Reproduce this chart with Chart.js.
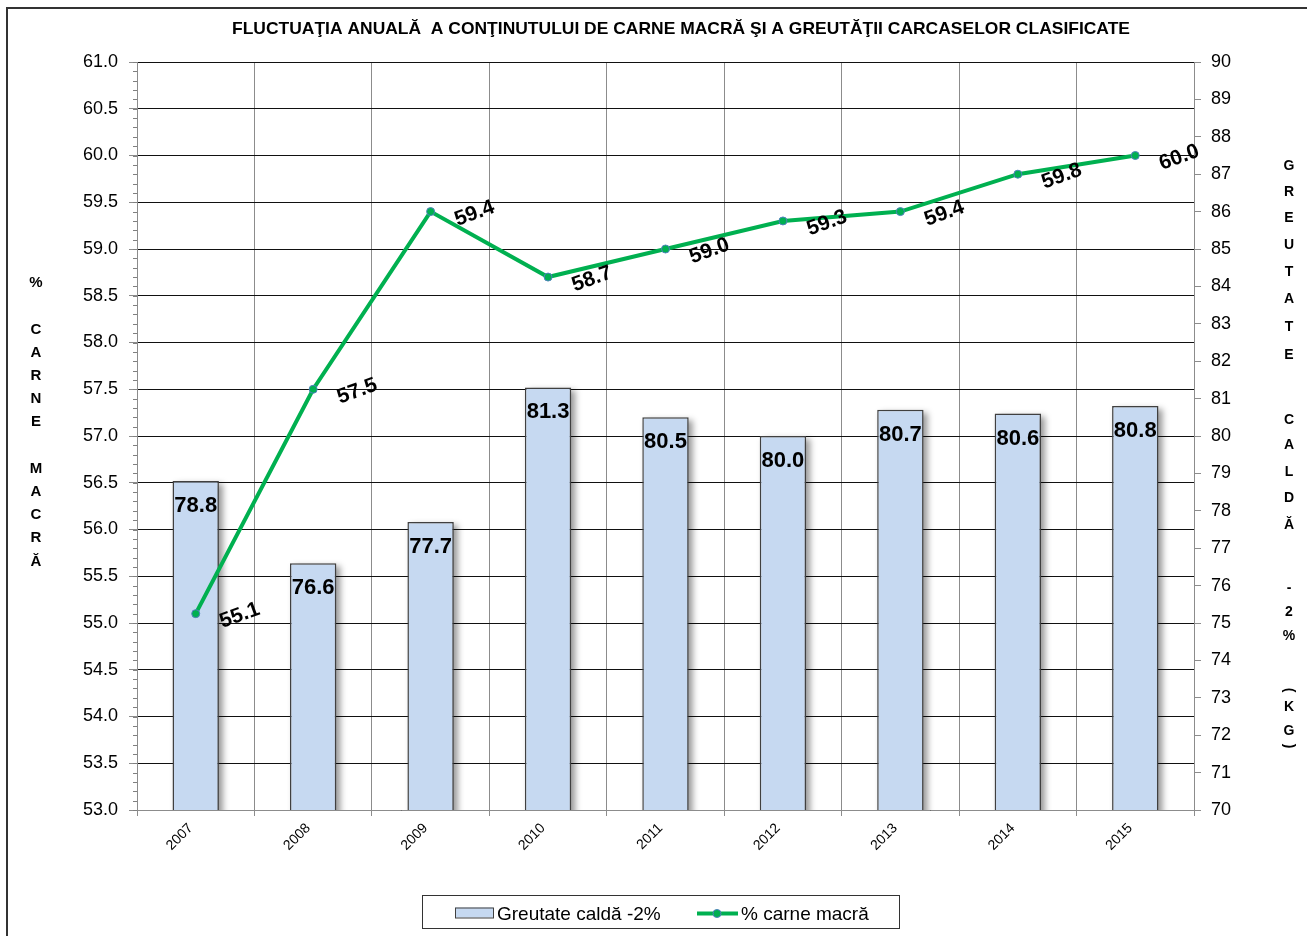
<!DOCTYPE html>
<html>
<head>
<meta charset="utf-8">
<script src="https://cdn.jsdelivr.net/npm/chart.js@4"></script>
<style>
  html, body { margin: 0; padding: 0; background: #fff; }
  canvas { display: block; }
</style>
</head>
<body>
<canvas id="c" width="1307" height="936"></canvas>
<script>
const years = ['2007','2008','2009','2010','2011','2012','2013','2014','2015'];
const weightValues = [78.8, 76.6, 77.7, 81.3, 80.5, 80.0, 80.7, 80.6, 80.8];
const leanValues = [55.1, 57.5, 59.4, 58.7, 59.0, 59.3, 59.4, 59.8, 60.0];
const weightLabel = 'Greutate caldă -2%';
const leanLabel = '% carne macră';
const chartTitle = 'FLUCTUAŢIA ANUALĂ  A CONŢINUTULUI DE CARNE MACRĂ ŞI A GREUTĂŢII CARCASELOR CLASIFICATE';
const leftAxisTitle = ['%', '', 'C', 'A', 'R', 'N', 'E', '', 'M', 'A', 'C', 'R', 'Ă'];
const rightAxisTitle = ['G','R','E','U','T','A','T','E','C','A','L','D','Ă','-','2','%','(','K','G',')'];

const FONT = '"Liberation Sans", Arial, sans-serif';
// layout: vertical positions of stacked right-axis title characters
const rightTitleY = [166,192,218,245,272,299,327,355, 420,445,472,498,525, 588,612,636, 690,707,731,746];

const decor = {
  id: 'decor',
  beforeDatasetDraw(chart, args) {
    if (args.index === 0) {
      const ctx = chart.ctx;
      const ca = chart.chartArea;
      const meta = chart.getDatasetMeta(0);
      ctx.save();
      ctx.beginPath();
      ctx.rect(ca.left, ca.top, ca.right - ca.left, ca.bottom - ca.top);
      ctx.clip();
      ctx.filter = 'blur(3px)';
      ctx.fillStyle = 'rgba(0,0,0,0.4)';
      meta.data.forEach(bar => {
        const w = bar.width;
        const left = bar.x - w / 2;
        ctx.fillRect(left + 4, bar.y + 3, w, ca.bottom - bar.y + 10);
      });
      ctx.restore();
    }
  },
  afterDraw(chart) {
    const ctx = chart.ctx;
    const ca = chart.chartArea;
    ctx.save();
    // outer border (left and top)
    ctx.strokeStyle = '#333';
    ctx.lineWidth = 2;
    ctx.beginPath();
    ctx.moveTo(7, 936);
    ctx.lineTo(7, 8);
    ctx.lineTo(1307, 8);
    ctx.stroke();

    // title, stretched to the reference width
    ctx.fillStyle = '#000';
    ctx.font = 'bold 15px ' + FONT;
    ctx.textAlign = 'center';
    ctx.textBaseline = 'middle';
    const tw = ctx.measureText(chartTitle).width;
    ctx.save();
    ctx.translate(681, 30);
    ctx.scale(898 / tw, 1.08);
    ctx.fillText(chartTitle, 0, 0);
    ctx.restore();

    // minor ticks left axis
    const yl = chart.scales.y;
    ctx.strokeStyle = '#808080';
    ctx.lineWidth = 1;
    for (let k = 0; k <= 80; k++) {
      const v = 53 + k * 0.1;
      const py = Math.round(yl.getPixelForValue(v)) + 0.5;
      ctx.beginPath();
      ctx.moveTo(ca.left - 4, py);
      ctx.lineTo(ca.left, py);
      ctx.stroke();
    }

    // left axis title (stacked)
    ctx.font = 'bold 15px ' + FONT;
    ctx.fillStyle = '#000';
    ctx.textAlign = 'center';
    let y = 283;
    leftAxisTitle.forEach(ch => {
      if (ch) ctx.fillText(ch, 36, y);
      y += 23.2;
    });

    // right axis title (stacked)
    ctx.font = 'bold 14px ' + FONT;
    rightAxisTitle.forEach((ch, i) => {
      const yy = rightTitleY[i];
      if (ch === '(' || ch === ')') {
        ctx.save();
        ctx.translate(1289, yy);
        ctx.rotate(Math.PI / 2);
        ctx.fillText(ch, 0, 0);
        ctx.restore();
      } else {
        ctx.fillText(ch, 1289, yy);
      }
    });

    // bar value labels
    const m0 = chart.getDatasetMeta(0);
    ctx.font = 'bold 22px ' + FONT;
    ctx.textAlign = 'center';
    ctx.textBaseline = 'middle';
    m0.data.forEach((bar, i) => {
      ctx.fillText(weightValues[i].toFixed(1), bar.x, bar.y + 25);
    });

    // line value labels (rotated)
    const m1 = chart.getDatasetMeta(1);
    ctx.font = 'bold 21px ' + FONT;
    m1.data.forEach((pt, i) => {
      ctx.save();
      ctx.translate(pt.x + 44, pt.y + 2);
      ctx.rotate(-20 * Math.PI / 180);
      ctx.fillText(leanValues[i].toFixed(1), 0, 0);
      ctx.restore();
    });

    // legend
    const lx = 422, ly = 895, lw = 477, lh = 33;
    ctx.fillStyle = '#fff';
    ctx.fillRect(lx, ly, lw, lh);
    ctx.strokeStyle = '#333';
    ctx.lineWidth = 1;
    ctx.strokeRect(lx + 0.5, ly + 0.5, lw, lh);
    const cy = ly + lh / 2 + 2;
    ctx.fillStyle = '#C6D9F1';
    ctx.fillRect(455, cy - 6, 38, 10);
    ctx.strokeStyle = '#404040';
    ctx.strokeRect(455.5, cy - 5.5, 38, 10);
    ctx.fillStyle = '#000';
    ctx.font = '19px ' + FONT;
    ctx.textAlign = 'left';
    ctx.textBaseline = 'middle';
    ctx.fillText(weightLabel, 497, cy + 1);
    ctx.strokeStyle = '#00B050';
    ctx.lineWidth = 4;
    ctx.beginPath();
    ctx.moveTo(697, cy);
    ctx.lineTo(738, cy);
    ctx.stroke();
    ctx.beginPath();
    ctx.arc(717, cy, 4, 0, Math.PI * 2);
    ctx.fillStyle = '#00B050';
    ctx.fill();
    ctx.lineWidth = 1;
    ctx.strokeStyle = '#4F81BD';
    ctx.stroke();
    ctx.fillStyle = '#000';
    ctx.fillText(leanLabel, 741, cy + 1);
    ctx.restore();
  }
};

new Chart(document.getElementById('c'), {
  data: {
    labels: years,
    datasets: [
      {
        type: 'bar',
        label: weightLabel,
        data: weightValues,
        yAxisID: 'y2',
        backgroundColor: '#C6D9F1',
        borderColor: '#404040',
        borderWidth: 1.5,
        categoryPercentage: 1,
        barPercentage: 0.395,
        order: 2
      },
      {
        type: 'line',
        label: leanLabel,
        data: leanValues,
        yAxisID: 'y',
        borderColor: '#00B050',
        borderWidth: 4,
        pointRadius: 4,
        pointBackgroundColor: '#00B050',
        pointBorderColor: '#4F81BD',
        pointBorderWidth: 1,
        tension: 0,
        order: 1
      }
    ]
  },
  options: {
    responsive: false,
    animation: false,
    devicePixelRatio: 1,
    layout: { padding: { left: 0, right: 0, top: 62, bottom: 0 } },
    plugins: {
      legend: { display: false },
      title: { display: false },
      tooltip: { enabled: false }
    },
    scales: {
      x: {
        offset: true,
        grid: { offset: true, color: '#8c8c8c', lineWidth: 1, tickLength: 6, tickColor: '#8c8c8c' },
        border: { color: '#8c8c8c', width: 1 },
        ticks: { color: '#000', font: { family: FONT, size: 14 }, minRotation: 45, maxRotation: 45, padding: 4, labelOffset: -5 },
        afterFit(s) { s.height = 126; }
      },
      y: {
        position: 'left',
        min: 53, max: 61,
        grid: { color: '#111', lineWidth: 1, tickLength: 8, tickColor: '#8c8c8c' },
        border: { color: '#8c8c8c', width: 1 },
        ticks: { stepSize: 0.5, color: '#000', font: { family: FONT, size: 18 }, padding: 11,
          callback: v => Number(v).toFixed(1) },
        afterFit(s) { s.width = 137; }
      },
      y2: {
        position: 'right',
        min: 70, max: 90,
        grid: { drawOnChartArea: false, tickLength: 7, tickColor: '#8c8c8c' },
        border: { color: '#8c8c8c', width: 1 },
        ticks: { stepSize: 1, color: '#000', font: { family: FONT, size: 18 }, padding: 10 },
        afterFit(s) { s.width = 113; }
      }
    }
  },
  plugins: [decor]
});
</script>
</body>
</html>
